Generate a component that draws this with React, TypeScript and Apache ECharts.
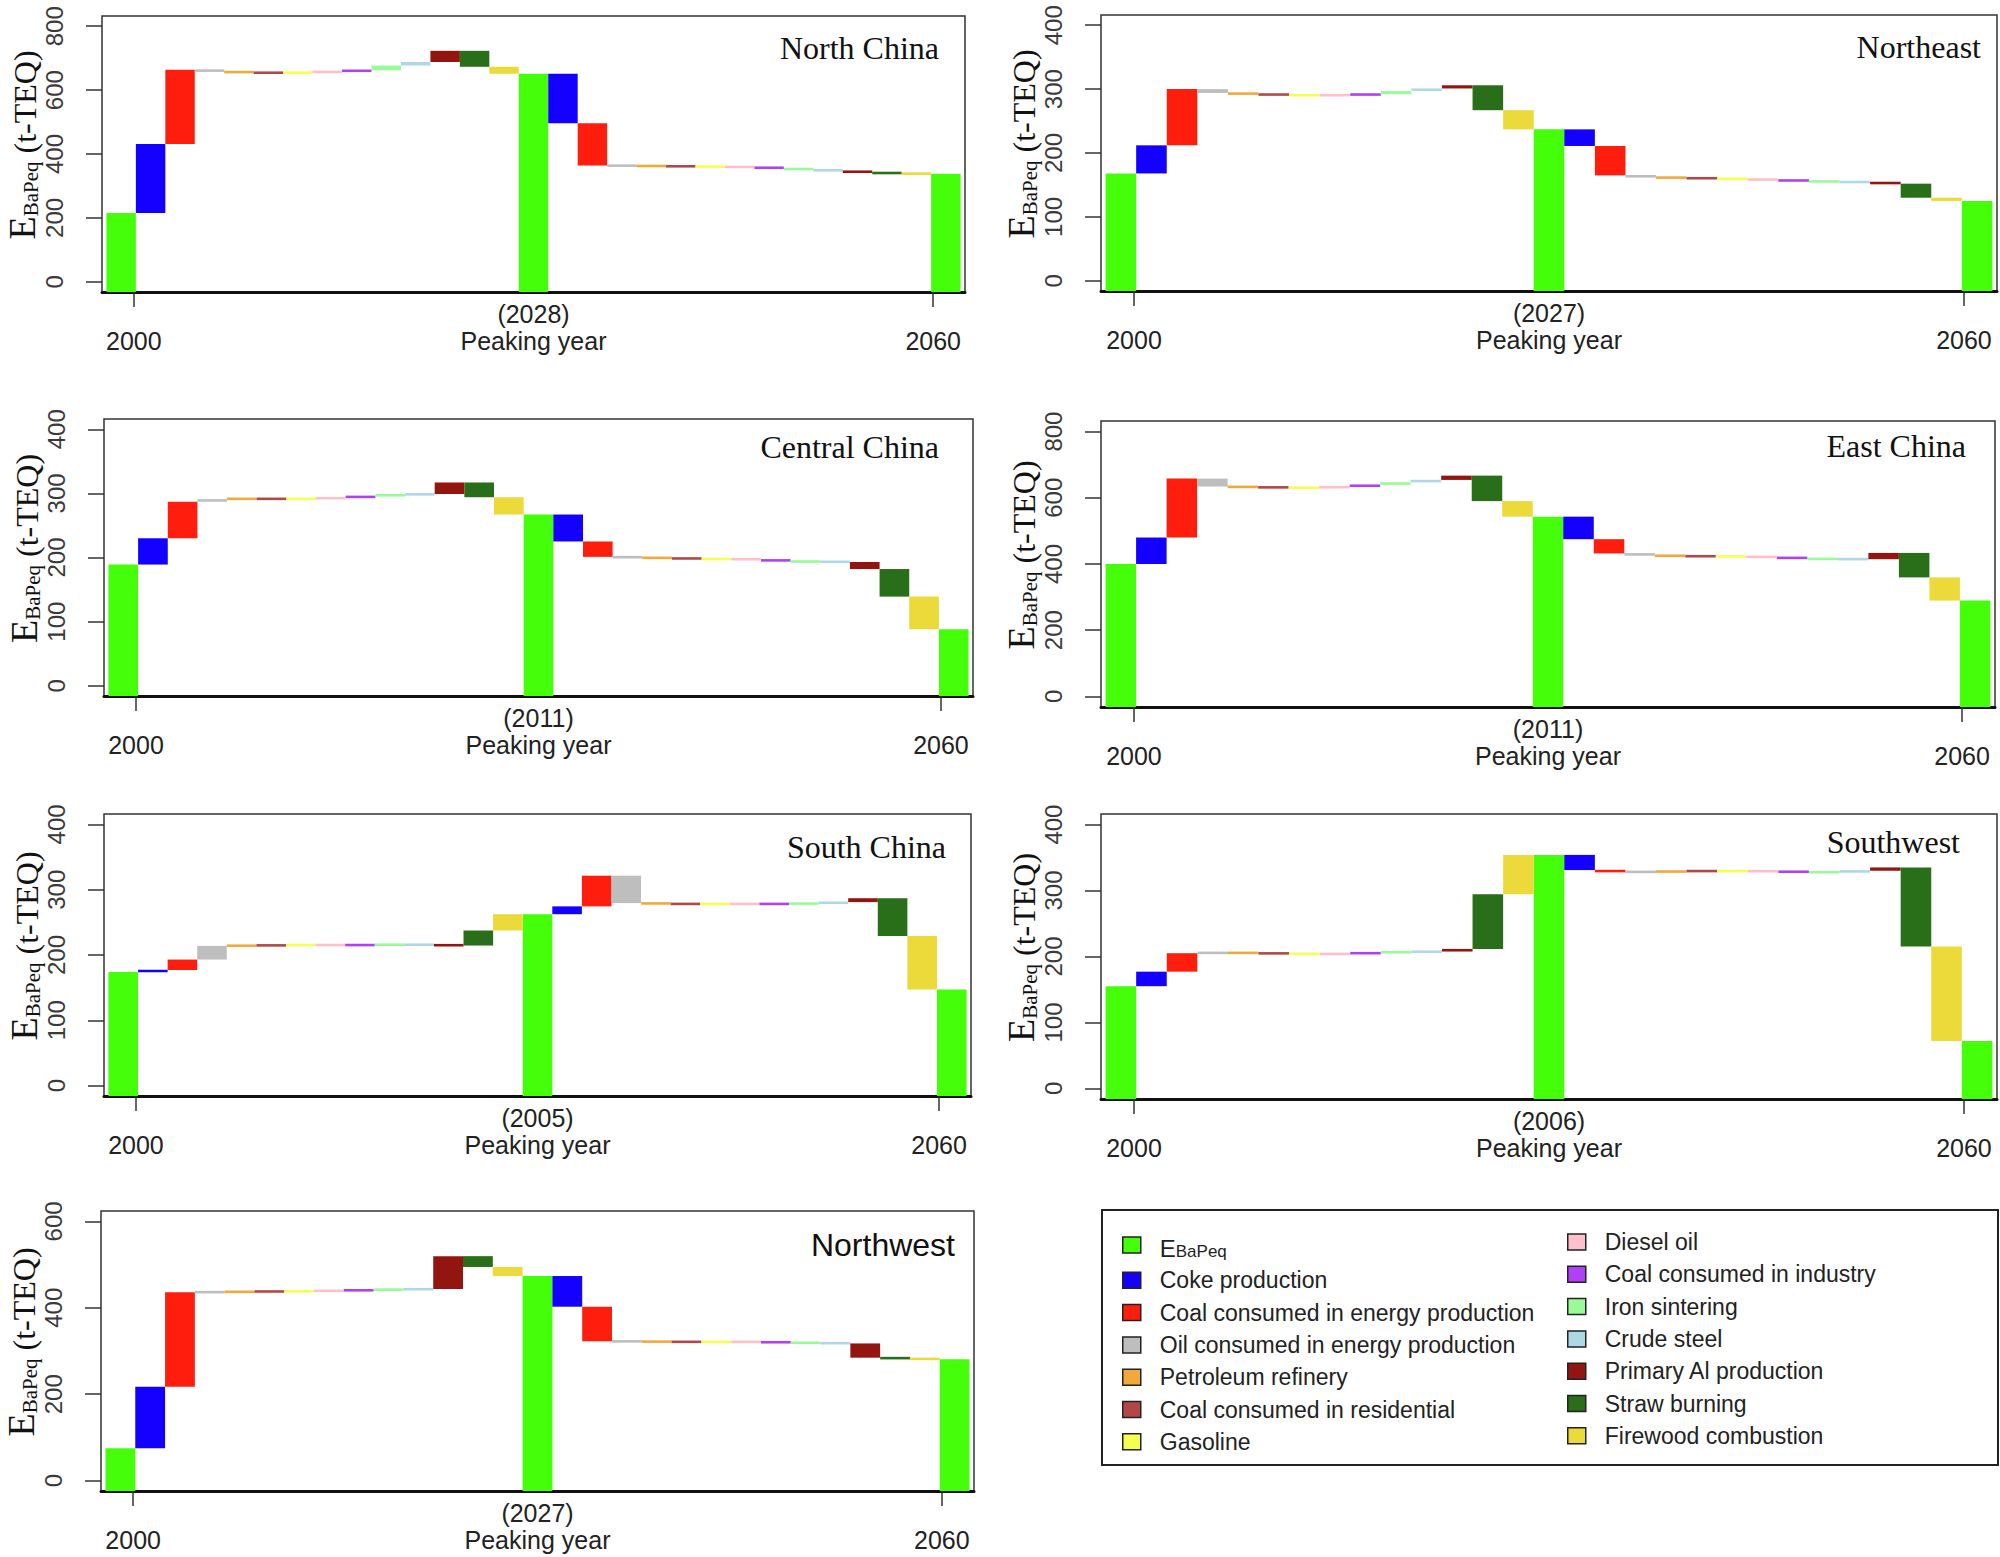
import React, { useEffect, useRef } from "react";
import * as echarts from "echarts";

// ---------------- data ----------------
const regions = ["North China", "Northeast", "Central China", "East China", "South China", "Southwest", "Northwest"];
const peakYears = ["2028", "2027", "2011", "2011", "2005", "2006", "2027"];
const startValues = [215, 168, 189, 400, 174, 155, 75];

// source order (after the EBaPeq total)
const sourceNames = [
  "Coke production",
  "Coal consumed in energy production",
  "Oil consumed in energy production",
  "Petroleum refinery",
  "Coal consumed in residential",
  "Gasoline",
  "Diesel oil",
  "Coal consumed in industry",
  "Iron sintering",
  "Crude steel",
  "Primary Al production",
  "Straw burning",
  "Firewood combustion",
];
const totalName = "EBaPeq";

// change of each source from 2000 to the peaking year
const ncRise = [216, 233, -6, -3, -1, 1, 4, 3, 15, 11, 35, -50, -22];
const neRise = [44, 88, -6, -2, -1, -1, 1, 1, 5, 4, 5, -39, -30];
const ccRise = [41, 57, 4, 1, -1, 1, 1, 3, 2, 1, 18, -23, -27];
const ecRise = [80, 178, -24, -2, -1, -1, 4, 5, 8, 7, 13, -77, -47];
const scRise = [3, 16, 21, 0.5, 0.5, 0.5, -0.5, 0.5, 0.5, -0.5, -1, 23, 25];
const swRise = [22, 28, 1, -1, -0.5, -1, 0.5, 2, 1, 0.5, 4, 83, 59.5];
const nwRise = [142, 219, 0.5, 1, 0.5, 1, 0.5, 2, 1, 1, 76, -25, -21];

// change of each source from the peaking year to 2060
const ncFall = [-155, -132, -1, -1, -1, -1, -1, -4, -4, -4, -5, -3, -1];
const neFall = [-26, -46, -3, -1, -1, -1, -1, -2, -1, -1, -2, -22, -5];
const ccFall = [-42, -24, -1, -1, -1, -0.5, -0.5, -3, -0.5, -0.5, -11, -43, -51];
const ecFall = [-68, -43, -6, -2, -1, -1, -1, -5, -1, -0.5, 19, -74, -70];
const scFall = [12, 47, -42, -1, -0.5, 0.5, -0.5, 0.5, 0.5, 2, 6, -58, -82];
const swFall = [-23, -3, 0.5, 0.5, 1, -1, 0.5, -2, 0.5, 2, 5, -120, -143];
const nwFall = [-71, -80, -0.5, -0.5, -0.5, 0.5, -0.5, -1.5, -1, -1, -33, -2, -1.5];

const riseByRegion = [ncRise, neRise, ccRise, ecRise, scRise, swRise, nwRise];
const fallByRegion = [ncFall, neFall, ccFall, ecFall, scFall, swFall, nwFall];

const yTicks800 = [0, 200, 400, 600, 800];
const yTicks400 = [0, 100, 200, 300, 400];
const yTicks600 = [0, 200, 400, 600];
const ticksByRegion = [yTicks800, yTicks400, yTicks400, yTicks800, yTicks400, yTicks400, yTicks600];

const xEdgeLabels = ["2000", "2060"];

// ---------------- styles / layout ----------------
const W = 2000;
const H = 1557;
const SANS = "'Liberation Sans', Arial, Helvetica, sans-serif";
const SERIF = "'Liberation Serif', 'Times New Roman', serif";

const totalColor = "#45FF0A";
const sourceColors = [
  "#1400FF", "#FF1E0E", "#BEBEBE", "#F2A93B", "#B04848", "#F5FF50", "#FFC0CB",
  "#B040F5", "#98FB98", "#ADD8E6", "#921510", "#296E19", "#EBDA3A",
];

// [left, top, right, bottom] of each plot box
const boxes = [
  [102, 16, 965, 292],
  [1101, 15, 1997, 291],
  [104, 419, 973, 696],
  [1101, 421, 1995, 707],
  [104, 814, 971, 1096],
  [1101, 814, 1997, 1099],
  [101, 1211, 974, 1491],
];
const titleRight = [939, 1981, 939, 1966, 946, 1960, 955];
const titleCenterY = [48, 47, 447, 446, 847, 842, 1245];

const X_MIN = -0.15;
const X_MAX = 29.15;
const xTickPos = [0.93, 28.07];
const xLabelPos = [0.93, 14.5, 28.07];

function renderBar(params: any, api: any) {
  const x0 = api.value(0);
  const lo = api.value(1);
  const hi = api.value(2);
  const a = api.coord([x0, lo]);
  const b = api.coord([x0 + 1, hi]);
  let y = Math.min(a[1], b[1]);
  let h = Math.abs(a[1] - b[1]);
  const minH = 2.6;
  if (h < minH) {
    y -= (minH - h) / 2;
    h = minH;
  }
  return {
    type: "rect",
    shape: { x: a[0], y, width: b[0] - a[0], height: h },
    style: { fill: api.visual("color") },
  };
}

function buildOption() {
  const grids: any[] = [];
  const xAxes: any[] = [];
  const yAxes: any[] = [];
  const series: any[] = [];
  const titles: any[] = [];

  regions.forEach((region, p) => {
    const [l, t, r, b] = boxes[p];
    const ticks = ticksByRegion[p];
    const span = ticks[ticks.length - 1] - ticks[0];
    const yMin = ticks[0] - 0.04 * span;
    const yMax = ticks[ticks.length - 1] + 0.04 * span;

    grids.push({
      left: l,
      top: t,
      width: r - l,
      height: b - t,
      containLabel: false,
      outerBoundsMode: "none",
      show: true,
      borderColor: "#333",
      borderWidth: 1.5,
      backgroundColor: "transparent",
    });

    const year = peakYears[p];
    xAxes.push({
      type: "value",
      gridIndex: p,
      min: X_MIN,
      max: X_MAX,
      splitLine: { show: false },
      axisLine: { show: true, onZero: false, lineStyle: { color: "#111", width: 3 } },
      axisTick: { show: true, customValues: xTickPos, length: 15, lineStyle: { color: "#333", width: 1.5 } },
      axisLabel: {
        show: true,
        customValues: xLabelPos,
        margin: 8,
        color: "#222",
        fontFamily: SANS,
        fontSize: 25,
        formatter: (v: number) => {
          if (Math.abs(v - xLabelPos[1]) < 0.01) return `{p|(${year})}\n{p|Peaking year}`;
          return `{p| }\n{p|${v < 10 ? xEdgeLabels[0] : xEdgeLabels[1]}}`;
        },
        rich: {
          p: { fontFamily: SANS, fontSize: 25, lineHeight: 27, color: "#222" },
        },
      },
    });

    yAxes.push({
      type: "value",
      gridIndex: p,
      min: yMin,
      max: yMax,
      splitLine: { show: false },
      axisLine: { show: false, onZero: false },
      axisTick: { show: true, customValues: ticks, length: 16, lineStyle: { color: "#333", width: 1.5 } },
      axisLabel: {
        show: true,
        customValues: ticks,
        rotate: 90,
        margin: 36,
        color: "#3a3a3a",
        fontFamily: SANS,
        fontSize: 24,
      },
      name: "{e|E}{s|BaPeq}{t| (t-TEQ)}",
      nameLocation: "middle",
      nameRotate: 90,
      nameGap: 58,
      nameTextStyle: {
        padding: [0, 0, 0, 18],
        rich: {
          e: { fontFamily: SERIF, fontSize: 38, lineHeight: 42, verticalAlign: "bottom", color: "#111" },
          s: { fontFamily: SERIF, fontSize: 21, lineHeight: 18, verticalAlign: "bottom", color: "#111" },
          t: { fontFamily: SERIF, fontSize: 32, lineHeight: 36, verticalAlign: "bottom", color: "#111" },
        },
      },
    });

    titles.push({
      text: region,
      right: W - titleRight[p],
      top: titleCenterY[p] - 17,
      padding: 0,
      textStyle: {
        fontFamily: p === 6 ? SANS : SERIF,
        fontSize: 32,
        lineHeight: 34,
        fontWeight: "normal",
        color: "#111",
      },
    });

    // waterfall data
    const rise = riseByRegion[p];
    const fall = fallByRegion[p];
    const perSource: number[][][] = sourceNames.map(() => []);
    let level = startValues[p];
    rise.forEach((d, i) => {
      perSource[i].push([i + 1, level, level + d]);
      level += d;
    });
    const peak = level;
    fall.forEach((d, i) => {
      perSource[i].push([i + 15, level, level + d]);
      level += d;
    });
    const end = level;

    series.push({
      type: "custom",
      name: totalName,
      xAxisIndex: p,
      yAxisIndex: p,
      silent: true,
      itemStyle: { color: totalColor },
      encode: { x: 0, y: [1, 2] },
      renderItem: renderBar,
      data: [
        [0, yMin, startValues[p]],
        [14, yMin, peak],
        [28, yMin, end],
      ],
    });
    sourceNames.forEach((name, i) => {
      series.push({
        type: "custom",
        name,
        xAxisIndex: p,
        yAxisIndex: p,
        silent: true,
        itemStyle: { color: sourceColors[i] },
        encode: { x: 0, y: [1, 2] },
        renderItem: renderBar,
        data: perSource[i],
      });
    });
  });

  const legendNames = [totalName, ...sourceNames];
  const legendCommon = {
    orient: "vertical",
    top: 1230,
    itemWidth: 18,
    itemHeight: 16,
    itemGap: 8.3,
    icon: "rect",
    padding: 0,
    selectedMode: false,
    itemStyle: { borderColor: "#222", borderWidth: 1.5 },
    formatter: (name: string) => (name === totalName ? "{le|E}{ls|BaPeq}" : name),
    textStyle: {
      fontFamily: SANS,
      fontSize: 23,
      lineHeight: 24,
      color: "#222",
      padding: [0, 0, 0, 14],
      rich: {
        le: { fontFamily: SANS, fontSize: 24, lineHeight: 30, verticalAlign: "bottom", color: "#222" },
        ls: { fontFamily: SANS, fontSize: 17, lineHeight: 17, verticalAlign: "bottom", color: "#222" },
      },
    },
  };

  return {
    animation: false,
    backgroundColor: "#ffffff",
    title: titles,
    grid: grids,
    xAxis: xAxes,
    yAxis: yAxes,
    series,
    legend: [
      { ...legendCommon, left: 1122, data: legendNames.slice(0, 7) },
      { ...legendCommon, left: 1567, data: legendNames.slice(7) },
    ],
    graphic: [
      {
        type: "rect",
        shape: { x: 1102, y: 1210, width: 896, height: 255 },
        style: { fill: "none", stroke: "#222", lineWidth: 2 },
        silent: true,
      },
    ],
  };
}

export default function App() {
  const ref = useRef<HTMLDivElement>(null);
  useEffect(() => {
    if (!ref.current) return;
    const chart = echarts.init(ref.current, undefined, { renderer: "svg", width: W, height: H });
    chart.setOption(buildOption() as any);
    return () => chart.dispose();
  }, []);
  return (
    <div
      ref={ref}
      style={{ position: "absolute", left: 0, top: 0, width: W, height: H, background: "#fff" }}
    />
  );
}
